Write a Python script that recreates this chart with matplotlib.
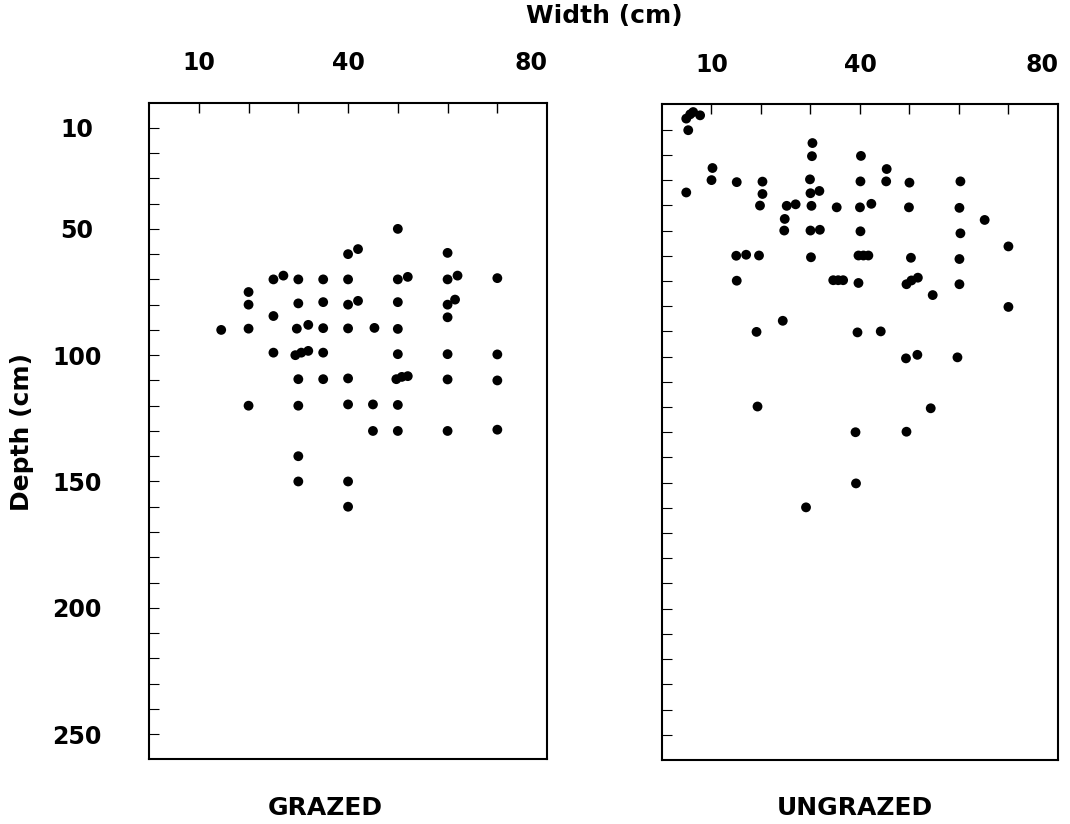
import matplotlib
matplotlib.use("Agg")
import matplotlib.pyplot as plt
from matplotlib.transforms import ScaledTranslation

# root width (cm) vs depth (cm), grazed plots
grazed_w = [50, 40, 42, 60,
            25, 27, 30, 35, 40, 50, 52, 60, 62, 70,
            20, 20, 30, 35, 40, 42, 50, 60, 61.5,
            25, 60,
            14.5, 20, 29.7, 32, 35, 40, 45.3, 50,
            25, 29.4, 30.6, 32, 35, 50, 60, 70,
            30, 35, 40, 49.7, 50.8, 52, 60, 70,
            20, 30, 40, 45, 50,
            45, 50, 60, 70,
            30, 30, 40, 40]
grazed_d = [50, 60, 58, 59.5,
            70, 68.5, 70, 70, 70, 70, 69, 70, 68.5, 69.5,
            75, 80, 79.5, 79, 80, 78.5, 79, 80, 78,
            84.5, 85,
            90, 89.5, 89.5, 88, 89.3, 89.4, 89.2, 89.6,
            99, 100, 99, 98.3, 99, 99.6, 99.6, 99.7,
            109.5, 109.5, 109.2, 109.5, 108.6, 108.3, 109.6, 110,
            120, 120, 119.5, 119.5, 119.7,
            130, 130, 130, 129.5,
            140, 150, 150, 160]

# ungrazed plots
ungrazed_w = [4.9, 5.7, 6.3, 7.7, 5.3,
              30.4, 30.3, 40.2,
              10.2, 45.4,
              10, 15.1, 20.3, 29.9, 40.1, 45.3, 50, 60.3,
              4.9, 20.3, 30, 31.8,
              19.8, 25.2, 27, 30.2, 35.3, 40, 42.3, 49.9, 60.1,
              24.8, 65.2,
              24.7, 30, 31.9, 40.1, 60.3,
              70,
              15, 17, 19.6, 30.1, 39.7, 40.7, 41.7, 50.3, 60.1,
              15.1, 34.6, 35.6, 36.6, 39.7, 49.4, 50.4, 51.7, 60.1,
              54.7, 70,
              24.4,
              19.1, 39.5, 44.2,
              49.3, 51.6, 59.7,
              19.3, 54.3,
              39.1, 49.4,
              39.2,
              29.1]
ungrazed_d = [5.6, 3.9, 3.0, 4.3, 10.2,
              15.3, 20.5, 20.4,
              25.2, 25.6,
              30, 30.8, 30.6, 29.7, 30.5, 30.5, 31, 30.5,
              34.9, 35.5, 35.2, 34.3,
              40.1, 40.2, 39.6, 40.2, 40.8, 40.8, 39.4, 40.8, 41,
              45.4, 45.8,
              50, 50, 49.7, 50.3, 51.1,
              56.3,
              60, 59.6, 59.9, 60.6, 59.9, 59.9, 59.9, 60.8, 61.3,
              69.9, 69.7, 69.7, 69.7, 70.8, 71.3, 69.8, 68.7, 71.3,
              75.6, 80.3,
              85.8,
              90.2, 90.4, 90,
              100.7, 99.3, 100.3,
              119.8, 120.5,
              130, 129.8,
              150.3,
              159.8]

width_labels = [10, 40, 80]
depth_labels = [10, 50, 100, 150, 200, 250]

fig = plt.figure(figsize=(10.7, 8.24), dpi=100)
ax1 = fig.add_axes([0.1393, 0.0785, 0.372, 0.797])
ax2 = fig.add_axes([0.6187, 0.0777, 0.370, 0.7955])

bold = dict(fontweight="bold", family="DejaVu Sans")

for ax, w, d, name, xc in [(ax1, grazed_w, grazed_d, "GRAZED", 0.304),
                           (ax2, ungrazed_w, ungrazed_d, "UNGRAZED", 0.799)]:
    ax.scatter(w, d, s=50, c="black", edgecolors="none", zorder=3)
    ax.set_xlim(0, 80)
    ax.set_ylim(260, 0)

    # keep the small tick marks even where a label sits
    ax.xaxis.remove_overlapping_locs = False
    ax.yaxis.remove_overlapping_locs = False

    ax.xaxis.tick_top()
    ax.set_xticks(width_labels)
    ax.set_xticks(range(10, 80, 10), minor=True)
    ax.set_xticklabels([str(v) for v in width_labels], fontsize=17, **bold)
    ax.tick_params(axis="x", which="major", length=0, pad=20)
    ax.tick_params(axis="x", which="minor", direction="in", length=7,
                   width=1.0, top=True, bottom=False)

    ax.set_yticks(depth_labels)
    ax.set_yticks(range(10, 260, 10), minor=True)
    ax.tick_params(axis="y", which="major", length=0, pad=52)
    ax.tick_params(axis="y", which="minor", direction="in", length=7,
                   width=0.8, left=True, right=False)
    if ax is ax1:
        ax.set_yticklabels([str(v) for v in depth_labels], fontsize=17,
                           ha="center", **bold)
    else:
        ax.set_yticklabels([])

    # nudge the last width label inward
    lab = ax.get_xticklabels()[-1]
    lab.set_transform(lab.get_transform() +
                      ScaledTranslation(-0.16, 0, fig.dpi_scale_trans))

    for sp in ax.spines.values():
        sp.set_linewidth(1.5)

    fig.text(xc, 0.019, name, ha="center", va="center", fontsize=18, **bold)

fig.text(0.5645, 0.981, "Width (cm)", ha="center", va="center",
         fontsize=18, **bold)
fig.text(0.021, 0.476, "Depth (cm)", ha="center", va="center",
         rotation=90, fontsize=18, **bold)

fig.savefig("out.png", dpi=100, facecolor="white")
